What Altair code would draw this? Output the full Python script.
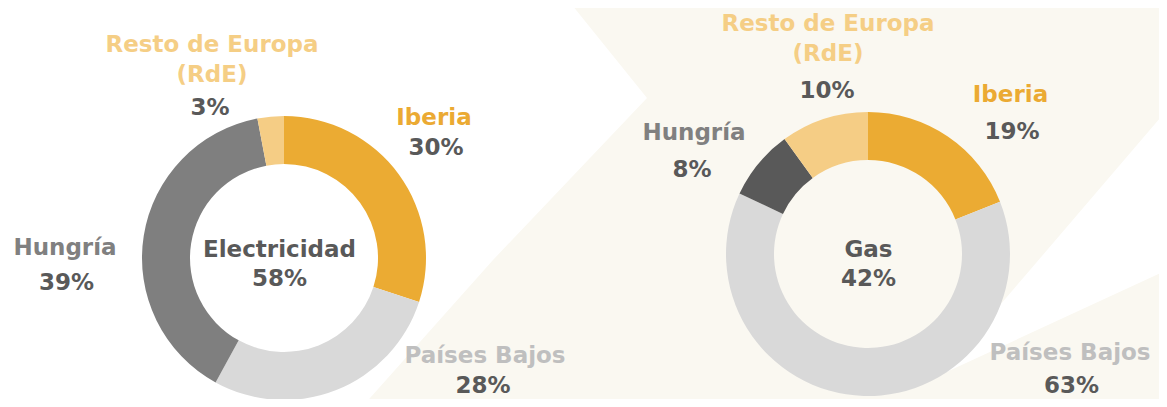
import altair as alt
import pandas as pd

# ---------------- data ----------------
regiones = ["Iberia", "Países Bajos", "Hungría", "Resto de Europa (RdE)"]
electricidad = [30, 28, 39, 3]
gas = [19, 63, 8, 10]
negocios = ["Electricidad", "Gas"]
peso_negocio = [58, 42]

# ---------------- styles / layout (image pixel coordinates) ----------------
FONT = "DejaVu Sans"
FS = 23
col_donut = {
    "Electricidad": ["#EBAB33", "#D9D9D9", "#7F7F7F", "#F5CD85"],
    "Gas": ["#EBAB33", "#D9D9D9", "#595959", "#F5CD85"],
}
col_nombre = ["#EBAA33", "#BFBFBF", "#808080", "#F5CE85"]
col_pct = "#595959"
centro = {"Electricidad": (284, 258), "Gas": (868, 254)}
pos_nombre = {
    "Electricidad": [(434, 125), (485, 363), (65, 255), (212, 52)],
    "Gas": [(1010.5, 102), (1070, 360), (694, 140), (828, 31)],
}
pos_pct = {
    "Electricidad": [(436, 155), (483, 393), (66.5, 290), (210, 115)],
    "Gas": [(1012, 138.5), (1071.5, 393), (692, 177), (827, 97.5)],
}
pos_centro = {"Electricidad": (279.5, 256.5), "Gas": (868.5, 256.5)}

# background decoration (beige chevron and white wedge)
fondo_y = [0, 98, 260, 407]
fondo_x = [568, 647, 493, 362]
cuna_y = [110, 270, 375]
cuna_x = [1167, 1030, 940]
cuna_x2 = [1167, 1167, 940]

W, H = 1151, 391
xs = alt.Scale(domain=[8, 8 + W], range=[0, W], nice=False, zero=False)
ys = alt.Scale(domain=[8, 8 + H], range=[0, H], nice=False, zero=False)

# ---------------- layers ----------------
fondo = alt.Chart(pd.DataFrame({"y": fondo_y, "x": fondo_x})).mark_area(
    orient="horizontal", color="#FAF8F1", clip=True
).encode(
    y=alt.Y("y:Q", scale=ys, axis=None),
    x=alt.X("x:Q", scale=xs, axis=None),
    x2=alt.X2(datum=1200),
)

cuna = alt.Chart(pd.DataFrame({"y": cuna_y, "x": cuna_x, "x2": cuna_x2})).mark_area(
    orient="horizontal", color="#FFFFFF", clip=True
).encode(
    y=alt.Y("y:Q", scale=ys, axis=None),
    x=alt.X("x:Q", scale=xs, axis=None),
    x2="x2:Q",
)

layers = [fondo, cuna]

for neg, vals in zip(negocios, [electricidad, gas]):
    df = pd.DataFrame({"region": regiones, "valor": vals, "orden": list(range(len(regiones)))})
    cx, cy = centro[neg]
    arc = alt.Chart(df).mark_arc(
        innerRadius=94, outerRadius=142, x=cx - 8, y=cy - 8
    ).encode(
        theta=alt.Theta("valor:Q", stack=True),
        color=alt.Color("region:N", scale=alt.Scale(domain=regiones, range=col_donut[neg]), legend=None),
        order=alt.Order("orden:Q"),
    )
    layers.append(arc)

# region name + percentage labels
filas = []
for neg, vals in zip(negocios, [electricidad, gas]):
    for i, (reg, v) in enumerate(zip(regiones, vals)):
        nx, ny = pos_nombre[neg][i]
        px, py = pos_pct[neg][i]
        filas.append({
            "nombre": reg.replace(" (", "\n("),
            "region": reg,
            "pct": f"{v}%",
            "nx": nx, "ny": ny, "px": px, "py": py,
        })
lab = pd.DataFrame(filas)

nombres = alt.Chart(lab).mark_text(
    font=FONT, fontSize=FS, fontWeight="bold", align="center", baseline="alphabetic",
    lineBreak="\n", lineHeight=30,
).encode(
    x=alt.X("nx:Q", scale=xs, axis=None),
    y=alt.Y("ny:Q", scale=ys, axis=None),
    text="nombre:N",
    color=alt.Color("region:N", scale=alt.Scale(domain=regiones, range=col_nombre), legend=None),
)

pcts = alt.Chart(lab).mark_text(
    font=FONT, fontSize=FS, fontWeight="bold", align="center", baseline="alphabetic",
    color=col_pct,
).encode(
    x=alt.X("px:Q", scale=xs, axis=None),
    y=alt.Y("py:Q", scale=ys, axis=None),
    text="pct:N",
)

cen = pd.DataFrame({
    "texto": [f"{n}\n{p}%" for n, p in zip(negocios, peso_negocio)],
    "x": [pos_centro[n][0] for n in negocios],
    "y": [pos_centro[n][1] for n in negocios],
})
centros = alt.Chart(cen).mark_text(
    font=FONT, fontSize=FS, fontWeight="bold", align="center", baseline="alphabetic",
    color=col_pct, lineBreak="\n", lineHeight=29,
).encode(
    x=alt.X("x:Q", scale=xs, axis=None),
    y=alt.Y("y:Q", scale=ys, axis=None),
    text="texto:N",
)

layers += [nombres, pcts, centros]

chart = alt.layer(*layers).resolve_scale(
    color="independent", theta="independent"
).properties(
    width=W, height=H, autosize=alt.AutoSizeParams(type="none"), padding=0,
    background="#FFFFFF",
).configure_view(strokeWidth=0)

chart.save("out.html", embed_options={"renderer": "svg", "actions": False})
